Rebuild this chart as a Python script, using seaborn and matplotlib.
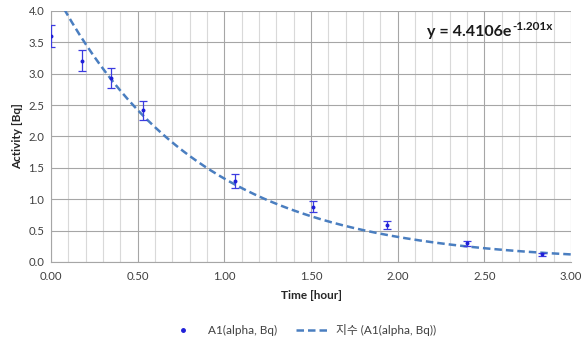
import numpy as np
import pandas as pd
import matplotlib
matplotlib.use('Agg')
import matplotlib.pyplot as plt
from matplotlib.lines import Line2D
import seaborn as sns

time_h = [0.00, 0.18, 0.345, 0.53, 1.06, 1.51, 1.94, 2.40, 2.83]
activity = [3.60, 3.21, 2.93, 2.42, 1.29, 0.88, 0.59, 0.30, 0.12]
err = [0.18, 0.17, 0.16, 0.15, 0.11, 0.09, 0.06, 0.04, 0.02]

# exponential trendline shown on the chart: y = 4.4106 e^(-1.201x)
fit_a = 4.4106
fit_k = 1.201

sns.set_style("white")
plt.rcParams['font.family'] = ['Lato', 'Noto Sans CJK KR', 'DejaVu Sans']

df = pd.DataFrame({'time': time_h, 'activity': activity})
fit_x = np.linspace(0.0, 3.0, 300)
fit_df = pd.DataFrame({'time': fit_x, 'activity': fit_a * np.exp(-fit_k * fit_x)})

fig = plt.figure(figsize=(5.81, 3.42), dpi=100)
ax = fig.add_axes([0.088, 0.234, 0.895, 0.734])

line_col = '#4A7EC0'
pt_col = '#1F1FD8'
dash = (0, (3.0, 1.6))

sns.lineplot(data=fit_df, x='time', y='activity', ax=ax, color=line_col,
             linestyle=dash, linewidth=1.8, zorder=3)
ax.errorbar(time_h, activity, yerr=err, fmt='none', ecolor='#3B3BE0',
            elinewidth=0.9, capsize=3.2, capthick=0.9, zorder=4)
sns.scatterplot(data=df, x='time', y='activity', ax=ax, color=pt_col,
                s=8, edgecolor=pt_col, linewidth=0, zorder=5)

ax.set_xlim(0, 3.0)
ax.set_ylim(0, 4.0)
ax.set_xticks(np.arange(0, 3.01, 0.5))
ax.set_xticklabels([f'{v:.2f}' for v in np.arange(0, 3.01, 0.5)])
ax.set_xticks(np.arange(0, 3.01, 0.1), minor=True)
ax.set_yticks(np.arange(0, 4.01, 0.5))
ax.set_yticklabels([f'{v:.1f}' for v in np.arange(0, 4.01, 0.5)])

ax.grid(which='major', color='#A6A6A6', linewidth=0.8)
ax.grid(which='minor', axis='x', color='#D9D9D9', linewidth=0.8)
ax.set_axisbelow(True)

for s in ['top', 'right']:
    ax.spines[s].set_visible(False)
for s in ['left', 'bottom']:
    ax.spines[s].set_color('#A6A6A6')
    ax.spines[s].set_linewidth(0.8)

ax.tick_params(axis='both', which='major', labelsize=8.2, colors='#A6A6A6',
               labelcolor='#404040', length=3, width=0.8, direction='out')
ax.tick_params(axis='x', which='minor', length=0)
ax.tick_params(axis='y', which='major', pad=2)

ax.set_xlabel('Time [hour]', fontsize=8.5, fontweight='bold', color='#262626', labelpad=6)
ax.set_ylabel('Activity [Bq]', fontsize=8.5, fontweight='bold', color='#262626', labelpad=4)

# equation label: main part, then small raised exponent right after it
eq = ax.text(2.17, 3.66, 'y = 4.4106e', fontsize=11.5, fontweight='bold',
             color='#1A1A1A', ha='left', va='center')
fig.canvas.draw()
bb = eq.get_window_extent().transformed(ax.transAxes.inverted())
ax.text(bb.x1 + 0.002, bb.y0 + 0.52 * bb.height, '-1.201x', fontsize=8.5,
        fontweight='bold', color='#1A1A1A', ha='left', va='bottom',
        transform=ax.transAxes)

handles = [
    Line2D([0], [0], marker='o', linestyle='none', color=pt_col, markersize=2.5),
    Line2D([0], [0], color=line_col, linestyle=dash, linewidth=1.8),
]
labels = ['A1(alpha, Bq)', '지수 (A1(alpha, Bq))']
fig.legend(handles, labels, loc='center', bbox_to_anchor=(0.52, 0.035), ncol=2,
           frameon=False, fontsize=8.5, handlelength=2.6, columnspacing=1.6,
           labelcolor='#404040')

fig.savefig('out.png', dpi=100)
